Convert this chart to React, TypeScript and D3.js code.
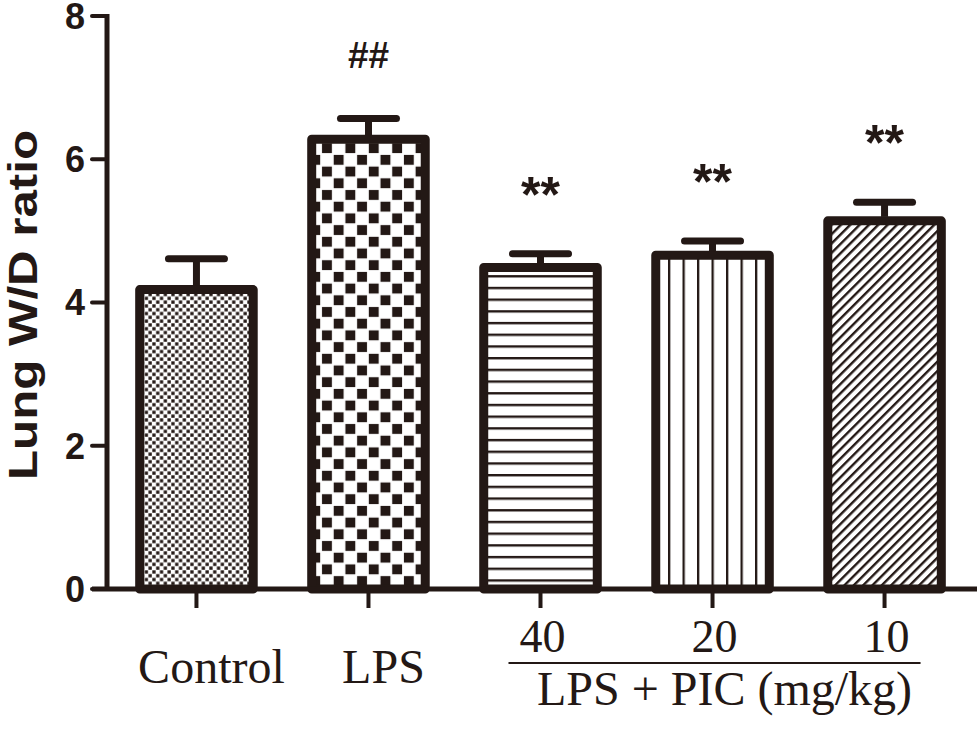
import * as d3 from 'd3'
import { useEffect, useRef } from 'react'

// values
const categories = ['Control', 'LPS', '40', '20', '10']
const means = [4.18, 6.28, 4.49, 4.66, 5.14]
const errors = [0.43, 0.29, 0.19, 0.2, 0.26]
const marks = ['', '##', '**', '**', '**']
const yTicks = [0, 2, 4, 6, 8]
const groupLabels = ['Control', 'LPS']
const doseLabel = 'LPS + PIC (mg/kg)'

const INK = '#231815'
const patternIds = ['pCtrl', 'pLps', 'pHor', 'pVer', 'pDiag']

const App = () => {
  const svgRef = useRef(null)

  useEffect(() => {
    const svg = d3.select(svgRef.current)
    svg.selectAll('*').remove()
    const W = 977
    const H = 732

    const x = d3.scaleBand().domain(categories).range([107, 974]).paddingInner(0.34).paddingOuter(0.19)
    const y = d3.scaleLinear().domain([0, 8]).range([589, 16])

    // fill patterns
    const defs = svg.append('defs')
    const ctrl = defs.append('pattern').attr('id', 'pCtrl').attr('patternUnits', 'userSpaceOnUse')
      .attr('width', 7.6).attr('height', 7.6)
    ctrl.append('rect').attr('width', 7.6).attr('height', 7.6).attr('fill', '#fff')
    ctrl.append('rect').attr('x', 0.3).attr('y', 0.3).attr('width', 3.3).attr('height', 3.3).attr('fill', INK)
    ctrl.append('rect').attr('x', 4.1).attr('y', 4.1).attr('width', 3.3).attr('height', 3.3).attr('fill', INK)

    const lps = defs.append('pattern').attr('id', 'pLps').attr('patternUnits', 'userSpaceOnUse')
      .attr('width', 23.4).attr('height', 23.4).attr('x', 16.9).attr('y', 1.9)
    lps.append('rect').attr('width', 23.4).attr('height', 23.4).attr('fill', '#fff')
    lps.append('rect').attr('x', 0.9).attr('y', 0.9).attr('width', 9.9).attr('height', 9.9).attr('fill', INK)
    lps.append('rect').attr('x', 12.6).attr('y', 12.6).attr('width', 9.9).attr('height', 9.9).attr('fill', INK)

    const hor = defs.append('pattern').attr('id', 'pHor').attr('patternUnits', 'userSpaceOnUse')
      .attr('width', 20).attr('height', 11.7).attr('y', 6)
    hor.append('rect').attr('width', 20).attr('height', 11.7).attr('fill', '#fff')
    hor.append('rect').attr('y', 0).attr('width', 20).attr('height', 2.4).attr('fill', INK)

    const ver = defs.append('pattern').attr('id', 'pVer').attr('patternUnits', 'userSpaceOnUse')
      .attr('width', 14.5).attr('height', 20).attr('x', 668)
    ver.append('rect').attr('width', 14.5).attr('height', 20).attr('fill', '#fff')
    ver.append('rect').attr('x', 0).attr('width', 2.3).attr('height', 20).attr('fill', INK)

    const diag = defs.append('pattern').attr('id', 'pDiag').attr('patternUnits', 'userSpaceOnUse')
      .attr('width', 6.6).attr('height', 20).attr('patternTransform', 'rotate(45)')
    diag.append('rect').attr('width', 6.6).attr('height', 20).attr('fill', '#fff')
    diag.append('rect').attr('width', 2.4).attr('height', 20).attr('fill', INK)

    svg.append('rect').attr('width', W).attr('height', H).attr('fill', '#fff')

    const g = svg.append('g')

    // bars
    g.selectAll('rect.bar')
      .data(categories)
      .enter()
      .append('rect')
      .attr('class', 'bar')
      .attr('x', d => x(d))
      .attr('y', (d, i) => y(means[i]))
      .attr('width', x.bandwidth())
      .attr('height', (d, i) => y(0) - y(means[i]))
      .attr('fill', (d, i) => `url(#${patternIds[i]})`)
      .attr('stroke', INK)
      .attr('stroke-width', 9)
      .attr('stroke-linejoin', 'round')

    // error bars
    const cx = d => x(d) + x.bandwidth() / 2
    g.selectAll('line.stem')
      .data(categories)
      .enter()
      .append('line')
      .attr('x1', cx).attr('x2', cx)
      .attr('y1', (d, i) => y(means[i]) - 4)
      .attr('y2', (d, i) => y(means[i] + errors[i]))
      .attr('stroke', INK).attr('stroke-width', 7)
    g.selectAll('line.cap')
      .data(categories)
      .enter()
      .append('line')
      .attr('x1', d => cx(d) - 28).attr('x2', d => cx(d) + 28)
      .attr('y1', (d, i) => y(means[i] + errors[i]))
      .attr('y2', (d, i) => y(means[i] + errors[i]))
      .attr('stroke', INK).attr('stroke-width', 7).attr('stroke-linecap', 'round')

    // significance marks
    g.selectAll('text.mark')
      .data(categories)
      .enter()
      .append('text')
      .attr('x', cx)
      .attr('y', (d, i) => y(means[i] + errors[i]) - (marks[i] === '##' ? 50 : 42))
      .attr('text-anchor', 'middle')
      .attr('font-family', '"Liberation Sans", Arial, sans-serif')
      .attr('font-weight', 'bold')
      .attr('font-size', (d, i) => (marks[i] === '##' ? 37 : 50))
      .attr('fill', INK)
      .text((d, i) => marks[i])

    // y axis
    g.append('line').attr('x1', 107).attr('x2', 107).attr('y1', y(8) - 2).attr('y2', y(0))
      .attr('stroke', INK).attr('stroke-width', 5)
    g.selectAll('line.ytick')
      .data(yTicks)
      .enter()
      .append('line')
      .attr('x1', 92).attr('x2', 107)
      .attr('y1', d => y(d)).attr('y2', d => y(d))
      .attr('stroke', INK).attr('stroke-width', 4).attr('stroke-linecap', 'round')
    g.selectAll('text.ytick')
      .data(yTicks)
      .enter()
      .append('text')
      .attr('x', 85)
      .attr('y', d => y(d))
      .attr('dy', '0.36em')
      .attr('text-anchor', 'end')
      .attr('font-family', '"Liberation Sans", Arial, sans-serif')
      .attr('font-weight', 'bold')
      .attr('font-size', 36)
      .attr('fill', INK)
      .text(d => d)

    g.append('text')
      .attr('transform', 'translate(37,305) rotate(-90)')
      .attr('text-anchor', 'middle')
      .attr('font-family', '"Liberation Sans", Arial, sans-serif')
      .attr('font-weight', 'bold')
      .attr('font-size', 40)
      .attr('textLength', 350)
      .attr('lengthAdjust', 'spacingAndGlyphs')
      .attr('fill', INK)
      .text('Lung W/D ratio')

    // x axis
    g.append('line').attr('x1', 92).attr('x2', W).attr('y1', y(0)).attr('y2', y(0))
      .attr('stroke', INK).attr('stroke-width', 5)
    g.selectAll('line.xtick')
      .data(categories)
      .enter()
      .append('line')
      .attr('x1', cx).attr('x2', cx)
      .attr('y1', y(0)).attr('y2', y(0) + 19)
      .attr('stroke', INK).attr('stroke-width', 4)

    const serif = '"Liberation Serif", "Times New Roman", serif'
    g.selectAll('text.group')
      .data(groupLabels)
      .enter()
      .append('text')
      .attr('x', d => cx(d) + 15)
      .attr('y', 683)
      .attr('text-anchor', 'middle')
      .attr('font-family', serif)
      .attr('font-size', 48)
      .attr('fill', INK)
      .text(d => d)

    const doses = categories.slice(2)
    g.selectAll('text.dose')
      .data(doses)
      .enter()
      .append('text')
      .attr('x', d => cx(d) + 2)
      .attr('y', 652)
      .attr('text-anchor', 'middle')
      .attr('font-family', serif)
      .attr('font-size', 46)
      .attr('fill', INK)
      .text(d => d)

    g.append('line')
      .attr('x1', cx(doses[0]) - 32).attr('x2', cx(doses[doses.length - 1]) + 36)
      .attr('y1', 663).attr('y2', 663)
      .attr('stroke', INK).attr('stroke-width', 2.2)

    g.append('text')
      .attr('x', (cx(doses[0]) + cx(doses[doses.length - 1])) / 2 + 12)
      .attr('y', 705)
      .attr('text-anchor', 'middle')
      .attr('font-family', serif)
      .attr('font-size', 48)
      .attr('fill', INK)
      .text(doseLabel)
  }, [])

  return (
    <svg
      ref={svgRef}
      width={977}
      height={732}
      style={{ position: 'absolute', left: 0, top: 0, display: 'block' }}
    />
  )
}

export default App
